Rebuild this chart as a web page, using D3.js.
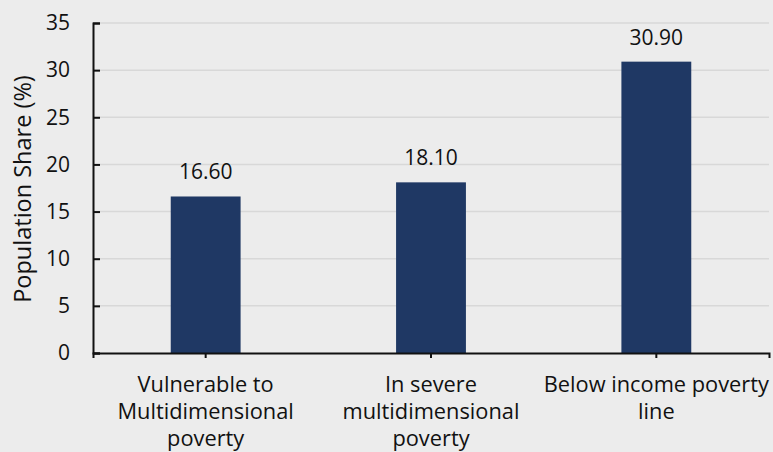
<!DOCTYPE html>
<html>
<head>
<meta charset="utf-8">
<script src="https://cdn.jsdelivr.net/npm/d3@7"></script>
<style>
  html, body { margin: 0; padding: 0; background: #ececec; }
  svg { display: block; }
  text { font-family: "Open Sans", "Noto Sans", sans-serif; fill: #111; }
</style>
</head>
<body>
<svg id="chart" width="773" height="452"></svg>
<script>
const categories = [
  ["Vulnerable to", "Multidimensional", "poverty"],
  ["In severe", "multidimensional", "poverty"],
  ["Below income poverty", "line"]
];
const values = [16.60, 18.10, 30.90];
const yTicks = [0, 5, 10, 15, 20, 25, 30, 35];
const yTitle = "Population Share (%)";

const svg = d3.select("#chart");
const W = 773, H = 452;
const m = { left: 93, right: 4, top: 23, bottom: 99 };
const FONT = "'Open Sans', 'Noto Sans', sans-serif";

const x = d3.scaleBand()
  .domain(d3.range(categories.length))
  .range([m.left, W - m.right])
  .paddingInner(0.69)
  .paddingOuter(0.345);
const y = d3.scaleLinear().domain([0, 35]).range([H - m.bottom, m.top]);

// gridlines
svg.append("g")
  .selectAll("line")
  .data(yTicks.filter(d => d > 0))
  .join("line")
  .attr("x1", m.left).attr("x2", W - m.right)
  .attr("y1", d => y(d)).attr("y2", d => y(d))
  .attr("stroke", "#d8d8d8").attr("stroke-width", 1.5);

// bars
svg.append("g")
  .selectAll("rect")
  .data(values)
  .join("rect")
  .attr("x", (d, i) => x(i))
  .attr("width", x.bandwidth())
  .attr("y", d => y(d))
  .attr("height", d => y(0) - y(d))
  .attr("fill", "#1f3864");

// value labels
svg.append("g")
  .selectAll("text")
  .data(values)
  .join("text")
  .attr("x", (d, i) => x(i) + x.bandwidth() / 2)
  .attr("y", d => y(d) - 17)
  .attr("text-anchor", "middle")
  .attr("font-size", 21)
  .text(d => d.toFixed(2));

// y axis
const yAxis = svg.append("g")
  .attr("transform", `translate(${m.left},0)`)
  .call(d3.axisLeft(y).tickValues(yTicks).tickSize(-7).tickPadding(23));
yAxis.select(".domain").attr("stroke", "#111").attr("stroke-width", 2);
yAxis.selectAll(".tick line").attr("stroke", "#111").attr("stroke-width", 2);
yAxis.selectAll(".tick text").attr("font-size", 21).attr("fill", "#111")
  .attr("font-family", FONT);

// x axis
const xAxis = svg.append("g")
  .attr("transform", `translate(0,${y(0)})`)
  .call(d3.axisBottom(x).tickSize(5).tickSizeOuter(5).tickFormat(""));
xAxis.select(".domain").attr("stroke", "#111").attr("stroke-width", 2);
xAxis.selectAll(".tick line").attr("stroke", "#111").attr("stroke-width", 2);

// category labels
svg.append("g")
  .selectAll("text")
  .data(categories)
  .join("text")
  .attr("x", (d, i) => x(i) + x.bandwidth() / 2)
  .attr("y", 392)
  .attr("text-anchor", "middle")
  .attr("font-size", 21.8)
  .each(function(lines) {
    d3.select(this).selectAll("tspan")
      .data(lines)
      .join("tspan")
      .attr("x", d3.select(this).attr("x"))
      .attr("dy", (l, j) => j === 0 ? 0 : 27)
      .text(l => l);
  });

// y title
svg.append("text")
  .attr("transform", `translate(31,189) rotate(-90)`)
  .attr("text-anchor", "middle")
  .attr("font-size", 23.5)
  .text(yTitle);
</script>
</body>
</html>
